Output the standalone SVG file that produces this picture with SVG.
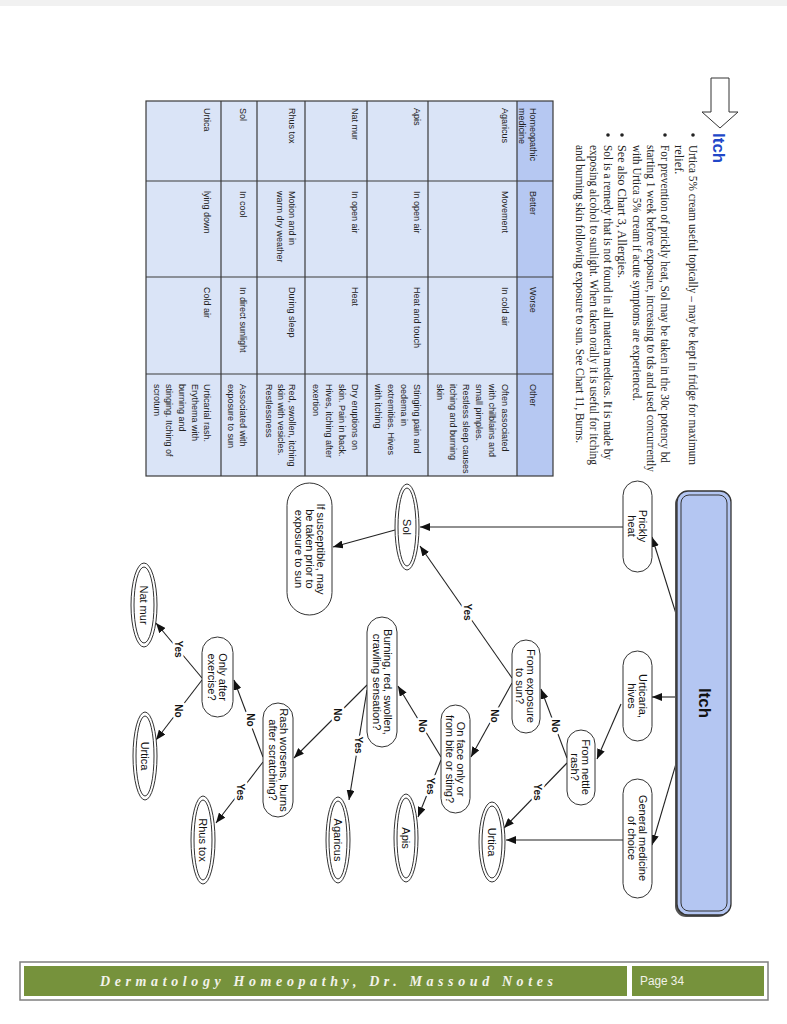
<svg xmlns="http://www.w3.org/2000/svg" width="787" height="1024" viewBox="0 0 787 1024">
<defs>
<marker id="ah" viewBox="0 0 10 8" refX="10" refY="4" markerWidth="10" markerHeight="8" markerUnits="userSpaceOnUse" orient="auto">
<path d="M0,0 L10,4 L0,8 Z" fill="#111"/>
</marker>
<style>
.r{dominant-baseline:central}
.bt{font-family:"Liberation Serif",serif;font-size:12.5px;fill:#222}
.tt{font-family:"Liberation Sans",sans-serif;font-size:9px;fill:#222}
.nt{font-family:"Liberation Sans",sans-serif;font-size:11px;fill:#111;text-anchor:middle}
.lb{font-family:"Liberation Sans",sans-serif;font-size:10px;font-weight:bold;fill:#111;text-anchor:middle;stroke:#fff;stroke-width:5;paint-order:stroke;stroke-linejoin:round}
.pill{fill:#fff;stroke:#333;stroke-width:1}
.eo{fill:#fff;stroke:#333;stroke-width:1}
.ei{fill:none;stroke:#333;stroke-width:1}
.cn{stroke:#222;stroke-width:1.1;fill:none}
.cm{marker-end:url(#ah)}
.tl{stroke:#3a3a3a;stroke-width:1.2}
</style>
</defs>
<rect x="0" y="0" width="787" height="1024" fill="#fff"/>
<rect x="0" y="0" width="787" height="6" fill="#f1f1f1"/>

<!-- Header arrow and title -->
<g id="title">
<polygon points="711,78 729,78 729,112 738,112 720,128 702,112 711,112" fill="#fff" stroke="#333" stroke-width="1"/>
<text class="r" transform="translate(718,133) rotate(90)" font-family="Liberation Sans,sans-serif" font-size="17" font-weight="bold" fill="#2147c8">Itch</text>
</g>

<!-- Bullet text -->
<g id="bullets">
<g fill="#222">
<circle cx="693" cy="135" r="1.8"/>
<circle cx="665" cy="135" r="1.8"/>
<circle cx="622" cy="135" r="1.8"/>
<circle cx="608" cy="135" r="1.8"/>
</g>
<text class="bt r" transform="translate(693,145) rotate(90)" textLength="320" lengthAdjust="spacingAndGlyphs">Urtica 5% cream useful topically – may be kept in fridge for maximum</text>
<text class="bt r" transform="translate(679,145) rotate(90)">relief.</text>
<text class="bt r" transform="translate(665,145) rotate(90)" textLength="318" lengthAdjust="spacingAndGlyphs">For prevention of prickly heat, Sol may be taken in the 30c potency bd</text>
<text class="bt r" transform="translate(651,145) rotate(90)" textLength="327" lengthAdjust="spacingAndGlyphs">starting 1 week before exposure, increasing to tds and used concurrently</text>
<text class="bt r" transform="translate(637,145) rotate(90)" textLength="256" lengthAdjust="spacingAndGlyphs">with Urtica 5% cream if acute symptoms are experienced.</text>
<text class="bt r" transform="translate(622,145) rotate(90)" textLength="133" lengthAdjust="spacingAndGlyphs">See also Chart 3, Allergies.</text>
<text class="bt r" transform="translate(608,145) rotate(90)" textLength="315" lengthAdjust="spacingAndGlyphs">Sol is a remedy that is not found in all materia medicas. It is made by</text>
<text class="bt r" transform="translate(594,145) rotate(90)" textLength="320" lengthAdjust="spacingAndGlyphs">exposing alcohol to sunlight. When taken orally it is useful for itching</text>
<text class="bt r" transform="translate(580,145) rotate(90)" textLength="298" lengthAdjust="spacingAndGlyphs">and burning skin following exposure to sun. See Chart 11, Burns.</text>
</g>

<!-- Table -->
<g id="table">
<rect x="146" y="101" width="371" height="375" fill="#dae4f7"/>
<rect x="517" y="101" width="36" height="375" fill="#b6c8f2"/>
<rect x="146" y="101" width="407" height="375" fill="none" stroke="#3a3a3a" stroke-width="1.2"/>
<line class="tl" x1="221" y1="101" x2="221" y2="476"/>
<line class="tl" x1="257" y1="101" x2="257" y2="476"/>
<line class="tl" x1="305" y1="101" x2="305" y2="476"/>
<line class="tl" x1="367" y1="101" x2="367" y2="476"/>
<line class="tl" x1="428" y1="101" x2="428" y2="476"/>
<line class="tl" x1="517" y1="101" x2="517" y2="476"/>
<line class="tl" x1="146" y1="181" x2="553" y2="181"/>
<line class="tl" x1="146" y1="277" x2="553" y2="277"/>
<line class="tl" x1="146" y1="374" x2="553" y2="374"/>
<!-- header -->
<text class="tt r" transform="translate(533,108) rotate(90)">Homeopathic</text>
<text class="tt r" transform="translate(522,108) rotate(90)">medicine</text>
<text class="tt r" transform="translate(533,191) rotate(90)">Better</text>
<text class="tt r" transform="translate(533,287) rotate(90)">Worse</text>
<text class="tt r" transform="translate(533,384) rotate(90)">Other</text>
<!-- Agaricus -->
<text class="tt r" transform="translate(505,108) rotate(90)">Agaricus</text>
<text class="tt r" transform="translate(505,191) rotate(90)">Movement</text>
<text class="tt r" transform="translate(505,287) rotate(90)">In cold air</text>
<text class="tt r" transform="translate(505,384) rotate(90)">Often associated</text>
<text class="tt r" transform="translate(492,384) rotate(90)">with chilblains and</text>
<text class="tt r" transform="translate(479,384) rotate(90)">small pimples.</text>
<text class="tt r" transform="translate(466,384) rotate(90)">Restless sleep causes</text>
<text class="tt r" transform="translate(453,384) rotate(90)">itching and burning</text>
<text class="tt r" transform="translate(440,384) rotate(90)">skin</text>
<!-- Apis -->
<text class="tt r" transform="translate(417,108) rotate(90)">Apis</text>
<text class="tt r" transform="translate(417,191) rotate(90)">In open air</text>
<text class="tt r" transform="translate(417,287) rotate(90)">Heat and touch</text>
<text class="tt r" transform="translate(417,384) rotate(90)">Stinging pain and</text>
<text class="tt r" transform="translate(404,384) rotate(90)">oedema in</text>
<text class="tt r" transform="translate(391,384) rotate(90)">extremities. Hives</text>
<text class="tt r" transform="translate(378,384) rotate(90)">with itching</text>
<!-- Nat mur -->
<text class="tt r" transform="translate(355,108) rotate(90)">Nat mur</text>
<text class="tt r" transform="translate(355,191) rotate(90)">In open air</text>
<text class="tt r" transform="translate(355,287) rotate(90)">Heat</text>
<text class="tt r" transform="translate(355,384) rotate(90)">Dry eruptions on</text>
<text class="tt r" transform="translate(342,384) rotate(90)">skin. Pain in back.</text>
<text class="tt r" transform="translate(329,384) rotate(90)">Hives, itching after</text>
<text class="tt r" transform="translate(316,384) rotate(90)">exertion</text>
<!-- Rhus tox -->
<text class="tt r" transform="translate(292,108) rotate(90)">Rhus tox</text>
<text class="tt r" transform="translate(292,191) rotate(90)">Motion and in</text>
<text class="tt r" transform="translate(280,191) rotate(90)">warm dry weather</text>
<text class="tt r" transform="translate(292,287) rotate(90)">During sleep</text>
<text class="tt r" transform="translate(292,384) rotate(90)">Red, swollen, itching</text>
<text class="tt r" transform="translate(281,384) rotate(90)">skin with vesicles.</text>
<text class="tt r" transform="translate(269,384) rotate(90)">Restlessness</text>
<!-- Sol -->
<text class="tt r" transform="translate(243,108) rotate(90)">Sol</text>
<text class="tt r" transform="translate(243,191) rotate(90)">In cool</text>
<text class="tt r" transform="translate(243,287) rotate(90)">In direct sunlight</text>
<text class="tt r" transform="translate(243,384) rotate(90)">Associated with</text>
<text class="tt r" transform="translate(231,384) rotate(90)">exposure to sun</text>
<!-- Urtica -->
<text class="tt r" transform="translate(207,108) rotate(90)">Urtica</text>
<text class="tt r" transform="translate(207,191) rotate(90)">lying down</text>
<text class="tt r" transform="translate(207,287) rotate(90)">Cold air</text>
<text class="tt r" transform="translate(207,384) rotate(90)">Urticarial rash.</text>
<text class="tt r" transform="translate(195,384) rotate(90)">Erythema with</text>
<text class="tt r" transform="translate(182,384) rotate(90)">burning and</text>
<text class="tt r" transform="translate(169,384) rotate(90)">stinging. Itching of</text>
<text class="tt r" transform="translate(157,384) rotate(90)">scrotum</text>
</g>

<!-- Connectors -->
<g id="connectors">
<path class="cn cm" d="M678,620 L652,537"/>
<path class="cn cm" d="M678,697 L652,697"/>
<path class="cn cm" d="M678,757 L652,845"/>
<path class="cn cm" d="M623,527 L420,527"/>
<path class="cn cm" d="M395,530 L333,547"/>
<path class="cn cm" d="M512,678 L420,546"/>
<path class="cn cm" d="M621,704 L597,759"/>
<path class="cn cm" d="M567,758 L541,689"/>
<path class="cn cm" d="M567,763 L504,828"/>
<path class="cn cm" d="M623,840 L506,840"/>
<path class="cn cm" d="M512,683 L471,757"/>
<path class="cn cm" d="M441,760 L418,817"/>
<path class="cn cm" d="M441,757 L398,686"/>
<path class="cn cm" d="M367,690 L349,800"/>
<path class="cn cm" d="M367,685 L294,758"/>
<path class="cn cm" d="M263,762 L216,823"/>
<path class="cn cm" d="M263,757 L234,680"/>
<path class="cn cm" d="M202,678 L156,623"/>
<path class="cn cm" d="M202,680 L156,740"/>
<text class="lb r" transform="translate(467,612) rotate(90)">Yes</text>
<text class="lb r" transform="translate(555,726) rotate(90)">No</text>
<text class="lb r" transform="translate(537,792) rotate(90)">Yes</text>
<text class="lb r" transform="translate(494,716) rotate(90)">No</text>
<text class="lb r" transform="translate(430,786) rotate(90)">Yes</text>
<text class="lb r" transform="translate(422,726) rotate(90)">No</text>
<text class="lb r" transform="translate(358,745) rotate(90)">Yes</text>
<text class="lb r" transform="translate(337,715) rotate(90)">No</text>
<text class="lb r" transform="translate(240,792) rotate(90)">Yes</text>
<text class="lb r" transform="translate(250,720) rotate(90)">No</text>
<text class="lb r" transform="translate(178,649) rotate(90)">Yes</text>
<text class="lb r" transform="translate(178,711) rotate(90)">No</text>
</g>

<!-- Nodes -->
<g id="itch">
<rect x="675" y="493" width="54" height="424" rx="11" fill="#555"/>
<rect x="677" y="491" width="54" height="424" rx="11" fill="#b4c6f2" stroke="#333" stroke-width="1.3"/>
<rect x="681" y="495" width="46" height="416" rx="8" fill="none" stroke="#333" stroke-width="1"/>
<text class="r" transform="translate(704,703) rotate(90)" text-anchor="middle" font-family="Liberation Sans,sans-serif" font-size="17" font-weight="bold" fill="#111">Itch</text>
</g>
<g id="prickly-heat">
<rect class="pill" x="623" y="481" width="29" height="91" rx="14.5"/>
<text class="nt r" transform="translate(643,526) rotate(90)">Prickly</text>
<text class="nt r" transform="translate(632,526) rotate(90)">heat</text>
</g>
<g id="urticaria-hives">
<rect class="pill" x="623" y="651" width="29" height="90" rx="14.5"/>
<text class="nt r" transform="translate(643,696) rotate(90)">Urticaria,</text>
<text class="nt r" transform="translate(632,696) rotate(90)">hives</text>
</g>
<g id="general-medicine">
<rect class="pill" x="623" y="779" width="29" height="119" rx="14.5"/>
<text class="nt r" transform="translate(643,838) rotate(90)">General medicine</text>
<text class="nt r" transform="translate(632,838) rotate(90)">of choice</text>
</g>
<g id="sol">
<ellipse class="eo" cx="407" cy="527" rx="12" ry="43"/>
<ellipse class="ei" cx="407" cy="527" rx="9" ry="39"/>
<text class="nt r" transform="translate(407,527) rotate(90)">Sol</text>
</g>
<g id="if-susceptible">
<rect class="pill" x="287" y="483" width="45" height="132" rx="22.5"/>
<text class="nt r" transform="translate(321,549) rotate(90)">If susceptible, may</text>
<text class="nt r" transform="translate(310,549) rotate(90)">be taken prior to</text>
<text class="nt r" transform="translate(299,549) rotate(90)">exposure to sun</text>
</g>
<g id="from-exposure">
<rect class="pill" x="512" y="640" width="28" height="93" rx="14"/>
<text class="nt r" transform="translate(531,686) rotate(90)">From exposure</text>
<text class="nt r" transform="translate(520,686) rotate(90)">to sun?</text>
</g>
<g id="from-nettle">
<rect class="pill" x="567" y="730" width="28" height="75" rx="14"/>
<text class="nt r" transform="translate(586,767) rotate(90)">From nettle</text>
<text class="nt r" transform="translate(575,767) rotate(90)">rash?</text>
</g>
<g id="urtica-1">
<ellipse class="eo" cx="492" cy="842" rx="13" ry="40"/>
<ellipse class="ei" cx="492" cy="842" rx="10" ry="36"/>
<text class="nt r" transform="translate(492,842) rotate(90)">Urtica</text>
</g>
<g id="on-face">
<rect class="pill" x="441" y="705" width="29" height="108" rx="14.5"/>
<text class="nt r" transform="translate(461,759) rotate(90)">On face only or</text>
<text class="nt r" transform="translate(450,759) rotate(90)">from bite or sting?</text>
</g>
<g id="apis">
<ellipse class="eo" cx="406" cy="838" rx="12" ry="44"/>
<ellipse class="ei" cx="406" cy="838" rx="9" ry="40"/>
<text class="nt r" transform="translate(406,838) rotate(90)">Apis</text>
</g>
<g id="burning">
<rect class="pill" x="367" y="617" width="30" height="130" rx="15"/>
<text class="nt r" transform="translate(388,682) rotate(90)">Burning, red, swollen,</text>
<text class="nt r" transform="translate(377,682) rotate(90)">crawling sensation?</text>
</g>
<g id="agaricus">
<ellipse class="eo" cx="338" cy="840" rx="12" ry="43"/>
<ellipse class="ei" cx="338" cy="840" rx="9" ry="39"/>
<text class="nt r" transform="translate(338,840) rotate(90)">Agaricus</text>
</g>
<g id="rash-worsens">
<rect class="pill" x="263" y="703" width="30" height="114" rx="15"/>
<text class="nt r" transform="translate(284,760) rotate(90)">Rash worsens, burns</text>
<text class="nt r" transform="translate(273,760) rotate(90)">after scratching?</text>
</g>
<g id="rhus-tox">
<ellipse class="eo" cx="203" cy="840" rx="12" ry="44"/>
<ellipse class="ei" cx="203" cy="840" rx="9" ry="40"/>
<text class="nt r" transform="translate(203,840) rotate(90)">Rhus tox</text>
</g>
<g id="only-after-exercise">
<rect class="pill" x="202" y="637" width="31" height="80" rx="15.5"/>
<text class="nt r" transform="translate(223,677) rotate(90)">Only after</text>
<text class="nt r" transform="translate(212,677) rotate(90)">exercise?</text>
</g>
<g id="nat-mur">
<ellipse class="eo" cx="144" cy="605" rx="13" ry="42"/>
<ellipse class="ei" cx="144" cy="605" rx="10" ry="38"/>
<text class="nt r" transform="translate(144,605) rotate(90)">Nat mur</text>
</g>
<g id="urtica-2">
<ellipse class="eo" cx="145" cy="756" rx="12" ry="44"/>
<ellipse class="ei" cx="145" cy="756" rx="9" ry="40"/>
<text class="nt r" transform="translate(145,756) rotate(90)">Urtica</text>
</g>

<!-- Footer -->
<g id="footer">
<rect x="20" y="962" width="748" height="38" fill="#fff" stroke="#7f7f7f" stroke-width="1.5"/>
<rect x="24" y="966" width="603" height="30" fill="#76923c"/>
<rect x="632" y="966" width="132" height="30" fill="#76923c"/>
<text x="100" y="986" font-family="Liberation Serif,serif" font-size="14" font-style="italic" font-weight="bold" fill="#f2f2ea" textLength="453" lengthAdjust="spacing">Dermatology Homeopathy, Dr. Massoud Notes</text>
<text x="640" y="985" font-family="Liberation Sans,sans-serif" font-size="12" fill="#f2f2ea" textLength="44" lengthAdjust="spacingAndGlyphs">Page 34</text>
</g>
</svg>
